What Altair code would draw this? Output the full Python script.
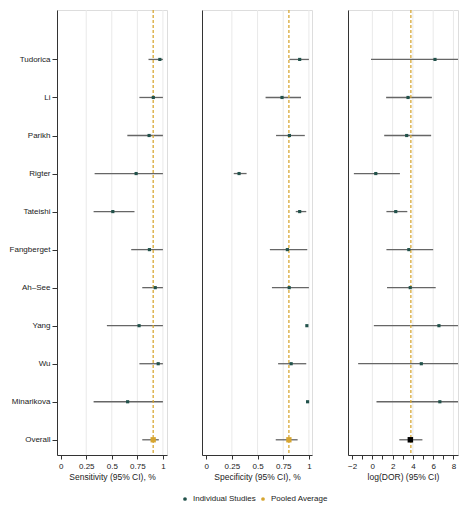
import json
import altair as alt
import pandas as pd

studies = ["Tudorica", "Li", "Parikh", "Rigter", "Tateishi", "Fangberget",
           "Ah–See", "Yang", "Wu", "Minarikova", "Overall"]
kind = ["Individual Studies"] * 10 + ["Pooled Average"]

sens = [0.97, 0.906, 0.865, 0.738, 0.51, 0.868, 0.925, 0.767, 0.954, 0.655, 0.905]
sens_lo = [0.859, 0.77, 0.652, 0.332, 0.322, 0.69, 0.798, 0.452, 0.77, 0.322, 0.798]
sens_hi = [1.0, 1.0, 1.0, 1.0, 0.722, 1.0, 1.0, 1.0, 1.0, 1.0, 0.96]

spec = [0.91, 0.738, 0.81, 0.32, 0.91, 0.79, 0.808, 0.98, 0.827, 0.987, 0.805]
spec_lo = [0.81, 0.578, 0.68, 0.268, 0.872, 0.62, 0.64, 0.975, 0.70, 0.985, 0.677]
spec_hi = [1.0, 0.923, 0.96, 0.393, 0.974, 0.984, 1.0, 0.99, 0.974, 0.99, 0.89]

ldor = [6.18, 3.52, 3.39, 0.34, 2.31, 3.6, 3.74, 6.57, 4.83, 6.66, 3.75]
ldor_lo = [-0.13, 1.36, 1.17, -1.82, 1.39, 1.39, 1.45, 0.15, -1.4, 0.41, 2.66]
ldor_hi = [12.5, 5.87, 5.8, 2.72, 3.45, 6.0, 6.25, 13.0, 11.1, 12.9, 4.94]

pooled = [0.905, 0.805, 3.8]

prop_ticks = [0, 0.25, 0.5, 0.75, 1]
prop_grid = [0.25, 0.5, 0.75, 1]
dor_ticks = [-2, -1, 0, 1, 2, 3, 4, 5, 6, 7, 8]
dor_grid = [0, 2, 4, 6, 8]

TEAL = "#22524b"
GOLD = "#d6a530"
AXIS = "#333333"
FONT = "Liberation Sans"

df = pd.DataFrame({
    "study": studies, "row": list(range(1, 12)), "type": kind,
    "sens": sens, "sens_lo": sens_lo, "sens_hi": sens_hi,
    "spec": spec, "spec_lo": spec_lo, "spec_hi": spec_hi,
    "ldor": ldor, "ldor_lo": ldor_lo, "ldor_hi": ldor_hi,
})

names_js = json.dumps(studies)

color_scale = alt.Scale(domain=["Individual Studies", "Pooled Average"], range=[TEAL, GOLD])
legend = alt.Legend(orient="none", legendX=124, legendY=485, direction="horizontal",
                    title=None, symbolType="circle", symbolSize=14, labelFontSize=8,
                    labelColor="#222222", labelOffset=4, columnPadding=3, padding=0,
                    labelFont=FONT)


def panel(est, lo, hi, pool, domain, ticks, grid, title, first, overall_color, odd_blank):
    yaxis = (alt.Axis(values=list(range(1, 12)), labelExpr=f"{names_js}[datum.value - 1]",
                      grid=False, tickSize=5, labelPadding=2, domainColor=AXIS, tickColor=AXIS,
                      labelFontSize=8, labelColor="#222222", labelFont=FONT)
             if first else
             alt.Axis(labels=False, ticks=False, grid=False, domainColor=AXIS))
    yenc = alt.Y("row:Q", scale=alt.Scale(domain=[-0.3, 11.4], reverse=True, nice=False, zero=False),
                 axis=yaxis, title=None)
    xscale = alt.Scale(domain=domain, nice=False, zero=False)
    xaxis = alt.Axis(values=ticks, grid=False, tickSize=4, labelPadding=3,
                     titlePadding=2, labelFontSize=8, titleFontSize=8.5, titleFontWeight="normal",
                     domainColor=AXIS, tickColor=AXIS, labelColor="#222222", titleColor="#222222",
                     labelFlush=False, labelOverlap=False, labelFont=FONT, titleFont=FONT,
                     labelExpr=("datum.value % 2 == 0 ? format(datum.value, '~g') : ''" if odd_blank
                                else "format(datum.value, '~g')"))

    def X(field):
        return alt.X(field, scale=xscale, axis=xaxis, title=title)

    g = alt.Chart(pd.DataFrame({"g": grid})).mark_rule(color="#e9e9e9", strokeWidth=1).encode(
        x=X("g:Q"))
    ci = alt.Chart(df).mark_rule(color="#666666", strokeWidth=1.3, clip=True).encode(
        x=X(f"{lo}:Q"), x2=f"{hi}:Q", y=yenc)
    dash = alt.Chart(pd.DataFrame({"p": [pool]})).mark_rule(
        color=GOLD, strokeDash=[3, 2], strokeWidth=1.4, opacity=0.9).encode(x=X("p:Q"))
    pts = alt.Chart(df).transform_filter(alt.datum.study != "Overall").mark_square(
        size=10, opacity=1).encode(
        x=X(f"{est}:Q"), y=yenc,
        color=alt.Color("type:N", scale=color_scale, legend=legend))
    ov_base = alt.Chart(df).transform_filter(alt.datum.study == "Overall")
    if overall_color is None:
        ov = ov_base.mark_square(size=28, opacity=1).encode(
            x=X(f"{est}:Q"), y=yenc,
            color=alt.Color("type:N", scale=color_scale, legend=legend))
    else:
        ov = ov_base.mark_square(size=30, opacity=1, color=overall_color).encode(
            x=X(f"{est}:Q"), y=yenc)
    return alt.layer(g, ci, dash, pts, ov).properties(width=110, height=445)


p1 = panel("sens", "sens_lo", "sens_hi", pooled[0], [-0.036, 1.04], prop_ticks, prop_grid,
           "Sensitivity (95% CI), %", True, None, False)
p2 = panel("spec", "spec_lo", "spec_hi", pooled[1], [-0.041, 1.03], prop_ticks, prop_grid,
           "Specificity (95% CI), %", False, None, False)
p3 = panel("ldor", "ldor_lo", "ldor_hi", pooled[2], [-2.4, 8.45], dor_ticks, dor_grid,
           "log(DOR) (95% CI)", False, "#000000", True)

chart = alt.hconcat(p1, p2, p3, spacing=33).properties(
    padding={"left": 0, "top": 0, "right": 0, "bottom": 0}
).configure_view(strokeWidth=0).configure(font=FONT)

chart.save("out.html", embed_options={"renderer": "svg", "actions": False})
